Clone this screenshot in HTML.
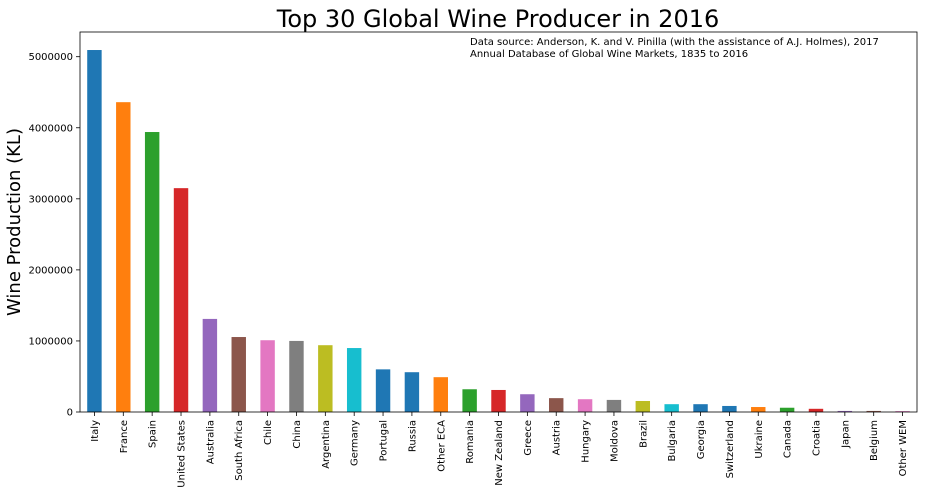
<!DOCTYPE html>
<html><head><meta charset="utf-8"><style>
body{margin:0;background:#fff;}
svg text{font-family:"DejaVu Sans","Liberation Sans",sans-serif;fill:#000;}
</style></head><body>
<svg id="chart" width="927" height="494" xmlns="http://www.w3.org/2000/svg">
<text x="498" y="27" font-size="24" text-anchor="middle">Top 30 Global Wine Producer in 2016</text>
<text transform="translate(20,222) rotate(-90)" font-size="18" text-anchor="middle">Wine Production (KL)</text>
<text x="470" y="45" font-size="10">Data source: Anderson, K. and V. Pinilla (with the assistance of A.J. Holmes), 2017</text>
<text x="470" y="57" font-size="10">Annual Database of Global Wine Markets, 1835 to 2016</text>
<g id="bars"></g><g id="axes"></g>
</svg>
<script>
const categories=["Italy","France","Spain","United States","Australia","South Africa","Chile","China","Argentina","Germany","Portugal","Russia","Other ECA","Romania","New Zealand","Greece","Austria","Hungary","Moldova","Brazil","Bulgaria","Georgia","Switzerland","Ukraine","Canada","Croatia","Japan","Belgium","Other WEM"];
const values=[5094000,4360000,3940000,3150000,1310000,1055000,1010000,1000000,940000,900000,600000,560000,490000,320000,310000,250000,195000,180000,170000,155000,110000,110000,85000,70000,60000,45000,15000,15000,12000];
const yTicks=[0,1000000,2000000,3000000,4000000,5000000];
const colors=["#1f77b4","#ff7f0e","#2ca02c","#d62728","#9467bd","#8c564b","#e377c2","#7f7f7f","#bcbd22","#17becf"];
const colorIdx=[0,1,2,3,4,5,6,7,8,9,0,0,1,2,3,4,5,6,7,8,9,0,0,1,2,3,4,5,6];
const L=80,R=917,T=32,B=412,NS="http://www.w3.org/2000/svg";
const y=v=>B-v*(B-56.7)/5000000;
const step=(R-L)/categories.length;
const x=i=>L+(i+0.5)*step;
const bars=document.getElementById('bars'),axes=document.getElementById('axes');
function mk(tag,at,par){const e=document.createElementNS(NS,tag);for(const k in at)e.setAttribute(k,at[k]);par.appendChild(e);return e;}
values.forEach((v,i)=>{
  const r=mk('rect',{x:x(i)-step*0.25,y:y(v),width:step*0.5,height:B-y(v),fill:colors[colorIdx[i%colorIdx.length]]},bars);
  
  
  const t=mk('line',{x1:x(i),x2:x(i),y1:B,y2:B+4,stroke:'#000','stroke-width':0.8},axes);
  
  
  const lb=mk('text',{transform:`translate(${x(i)+3.5},${B+8}) rotate(-90)`,'font-size':10,'text-anchor':'end'},axes);
  lb.textContent=categories[i];
  
  
});
yTicks.forEach(v=>{
  const t=mk('line',{x1:L-4,x2:L,y1:y(v),y2:y(v),stroke:'#000','stroke-width':0.8},axes);
  
  
  const lb=mk('text',{x:L-7,y:y(v)+3.5,'font-size':10,'text-anchor':'end'},axes);
  lb.textContent=String(v);
  
  
});
const fr=mk('rect',{x:L,y:T,width:R-L,height:B-T,fill:'none',stroke:'#000','stroke-width':0.8},axes);


</script>
</body></html>
